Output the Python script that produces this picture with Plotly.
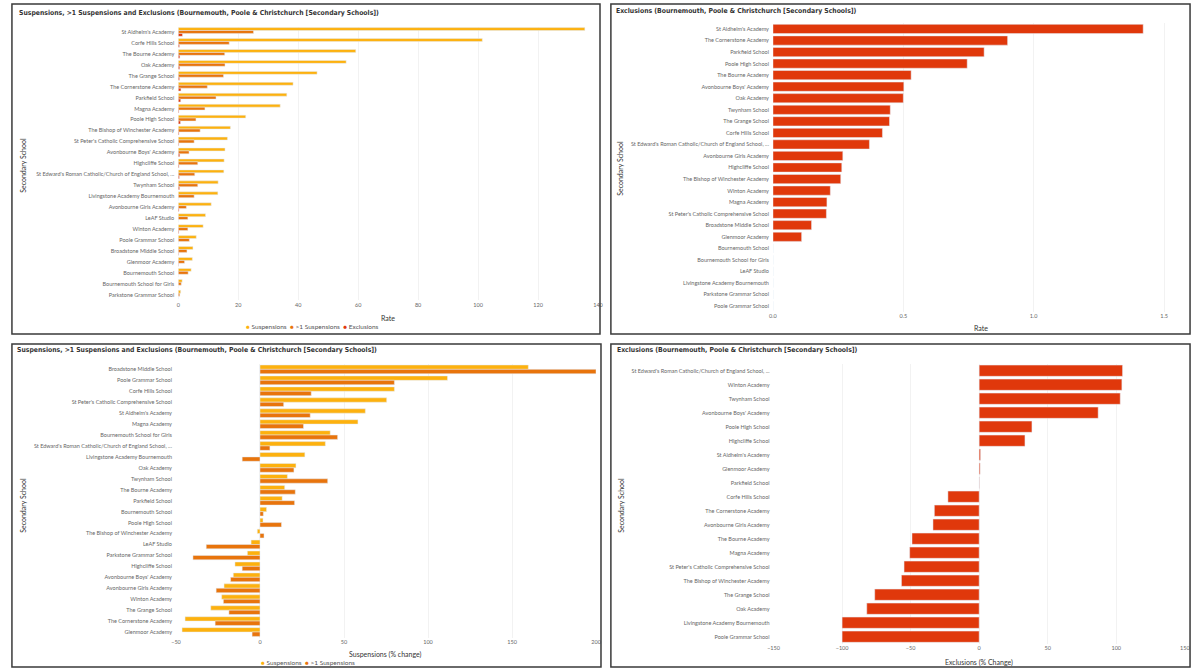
import plotly.graph_objects as go

# --- top panels: rates per school ---
schools = [
    "St Aldhelm's Academy", "Corfe Hills School", "The Bourne Academy", "Oak Academy",
    "The Grange School", "The Cornerstone Academy", "Parkfield School", "Magna Academy",
    "Poole High School", "The Bishop of Winchester Academy",
    "St Peter's Catholic Comprehensive School", "Avonbourne Boys' Academy", "Highcliffe School",
    "St Edward's Roman Catholic/Church of England School, ...", "Twynham School",
    "Livingstone Academy Bournemouth", "Avonbourne Girls Academy", "LeAF Studio",
    "Winton Academy", "Poole Grammar School", "Broadstone Middle School", "Glenmoor Academy",
    "Bournemouth School", "Bournemouth School for Girls", "Parkstone Grammar School",
]
susp_rate = [135.6, 101.4, 59.2, 56.0, 46.3, 38.3, 36.2, 34.0, 22.5, 17.4, 16.4, 15.6, 15.3,
             15.2, 13.3, 13.2, 11.0, 9.1, 8.3, 6.0, 4.9, 4.7, 4.3, 1.3, 0.8]
multi_susp_rate = [25.1, 17.0, 15.5, 15.6, 15.1, 9.7, 12.6, 8.9, 5.9, 7.3, 5.3, 3.6, 6.5,
                   5.5, 6.5, 5.3, 2.7, 3.2, 3.2, 3.7, 2.9, 2.1, 3.3, 1.0, 0.5]
excl_rate = [1.42, 0.42, 0.53, 0.50, 0.447, 0.90, 0.81, 0.207, 0.745, 0.26, 0.205, 0.502, 0.264,
             0.37, 0.45, 0.0, 0.268, 0.0, 0.22, 0.0, 0.148, 0.11, 0.0, 0.0, 0.0]

# --- bottom left: % change in suspensions ---
pct_schools = [
    "Broadstone Middle School", "Poole Grammar School", "Corfe Hills School",
    "St Peter's Catholic Comprehensive School", "St Aldhelm's Academy", "Magna Academy",
    "Bournemouth School for Girls", "St Edward's Roman Catholic/Church of England School, ...",
    "Livingstone Academy Bournemouth", "Oak Academy", "Twynham School", "The Bourne Academy",
    "Parkfield School", "Bournemouth School", "Poole High School",
    "The Bishop of Winchester Academy", "LeAF Studio", "Parkstone Grammar School",
    "Highcliffe School", "Avonbourne Boys' Academy", "Avonbourne Girls Academy",
    "Winton Academy", "The Grange School", "The Cornerstone Academy", "Glenmoor Academy",
]
susp_pct = [159.7, 111.6, 80.0, 75.4, 62.7, 58.3, 41.8, 38.9, 26.7, 21.4, 16.3, 14.7, 13.2,
            3.9, 1.8, -1.6, -5.3, -7.5, -14.9, -15.9, -21.4, -22.8, -29.3, -44.6, -46.4]
multi_susp_pct = [200.0, 80.0, 30.5, 14.1, 29.9, 25.9, 46.2, 5.9, -10.6, 20.2, 40.3, 21.0, 20.6,
                  2.0, 12.8, 2.4, -32.0, -39.9, -10.6, -17.5, -26.1, -21.8, -18.5, -26.7, -4.7]

# --- bottom right: % change in exclusions ---
excl_schools = [
    "St Edward's Roman Catholic/Church of England School, ...", "Winton Academy",
    "Twynham School", "Avonbourne Boys' Academy", "Poole High School", "Highcliffe School",
    "St Aldhelm's Academy", "Glenmoor Academy", "Parkfield School", "Corfe Hills School",
    "The Cornerstone Academy", "Avonbourne Girls Academy", "The Bourne Academy",
    "Magna Academy", "St Peter's Catholic Comprehensive School",
    "The Bishop of Winchester Academy", "The Grange School", "Oak Academy",
    "Livingstone Academy Bournemouth", "Poole Grammar School",
]
excl_pct = [104.6, 104.1, 102.9, 86.8, 38.5, 33.4, 1.0, 0.7, 0.2, -22.8, -32.7, -33.7, -49.0,
            -50.7, -54.8, -56.7, -76.2, -82.0, -100.0, -100.0]

TITLE = "Suspensions, >1 Suspensions and Exclusions (Bournemouth, Poole & Christchurch [Secondary Schools])"
TITLE_EXCL = "Exclusions (Bournemouth, Poole & Christchurch [Secondary Schools])"

C_SUSP = '#FDB10E'
C_MULTI = '#E8740C'
C_EXCL = '#E0380B'
W, H = 1200, 672
LABEL_FONT = dict(family='Lato', size=5.5, color='#666666')
TEXT_FONT = dict(family='Lato', size=7, color='#333333')
TITLE_FONT = dict(family='DejaVu Sans Condensed, Roboto, sans-serif', size=6.8, color='#333333')


def fx(px):
    return px / W


def fy(py):
    return 1 - py / H


# panel 2 is the exclusion rate sorted high to low
order = sorted(range(len(schools)), key=lambda i: (-excl_rate[i], schools[i]))
excl_sorted_schools = [schools[i] for i in order]
excl_sorted_rate = [excl_rate[i] for i in order]

fig = go.Figure()

fig.add_trace(go.Bar(y=schools, x=susp_rate, orientation='h', marker_color=C_SUSP,
                     name='Suspensions', xaxis='x', yaxis='y'))
fig.add_trace(go.Bar(y=schools, x=multi_susp_rate, orientation='h', marker_color=C_MULTI,
                     name='>1 Suspensions', xaxis='x', yaxis='y'))
fig.add_trace(go.Bar(y=schools, x=excl_rate, orientation='h', marker_color=C_EXCL,
                     name='Exclusions', xaxis='x', yaxis='y'))

fig.add_trace(go.Bar(y=excl_sorted_schools, x=excl_sorted_rate, orientation='h',
                     marker_color=C_EXCL, name='Exclusions', xaxis='x2', yaxis='y2'))

fig.add_trace(go.Bar(y=pct_schools, x=susp_pct, orientation='h', marker_color=C_SUSP,
                     name='Suspensions', xaxis='x3', yaxis='y3'))
fig.add_trace(go.Bar(y=pct_schools, x=multi_susp_pct, orientation='h', marker_color=C_MULTI,
                     name='>1 Suspensions', xaxis='x3', yaxis='y3'))

fig.add_trace(go.Bar(y=excl_schools, x=excl_pct, orientation='h', marker_color=C_EXCL,
                     name='Exclusions', xaxis='x4', yaxis='y4'))


def xaxis(dom, rng, dtick, anchor, fmt=None):
    d = dict(domain=[fx(dom[0]), fx(dom[1])], range=rng, dtick=dtick, anchor=anchor,
             showgrid=True, gridcolor='#F2F2F2', zeroline=False, showline=False,
             tickfont=LABEL_FONT, ticks='', fixedrange=True)
    if fmt:
        d['tickformat'] = fmt
    return d


def yaxis(top, bottom, n, anchor):
    return dict(domain=[fy(bottom), fy(top)], range=[n - 0.5, -0.5], anchor=anchor,
                type='category', showgrid=False, zeroline=False, showline=False,
                tickfont=LABEL_FONT, ticks='', ticklabelstandoff=3, fixedrange=True)


fig.update_layout(
    width=W, height=H,
    margin=dict(l=0, r=0, t=0, b=0),
    paper_bgcolor='white', plot_bgcolor='white',
    barmode='group', bargap=0.2, bargroupgap=0,
    showlegend=False,
    xaxis=xaxis((174, 598), [0, 140], 20, 'y'),
    yaxis=yaxis(26.5, 300.2, len(schools), 'x'),
    xaxis2=xaxis((774.7, 1175), [0, 1.52], 0.5, 'y2', '.1f'),
    yaxis2=yaxis(23.2, 311.8, len(schools), 'x2'),
    xaxis3=xaxis((171.7, 596), [-50, 200], 50, 'y3'),
    yaxis3=yaxis(363.9, 637.5, len(pct_schools), 'x3'),
    xaxis4=xaxis((775.3, 1190.7), [-150, 150], 50, 'y4'),
    yaxis4=yaxis(363.7, 643.7, len(excl_schools), 'x4'),
)

# panel frames
for x0, y0, x1, y1 in [(6, 4, 600, 334), (611, 4, 1196, 334),
                       (6, 344, 601, 667), (611, 344, 1196, 667)]:
    fig.add_shape(type='rect', xref='paper', yref='paper',
                  x0=fx(x0), x1=fx(x1), y0=fy(y1), y1=fy(y0),
                  line=dict(color='#3A3A3A', width=1.5), fillcolor='rgba(0,0,0,0)')

ann = []


def text(px, py, s, font, xanchor='left', angle=0):
    ann.append(dict(x=fx(px), y=fy(py), xref='paper', yref='paper', text=s, showarrow=False,
                    xanchor=xanchor, yanchor='middle', font=font, textangle=angle))


text(11, 13, '<b>' + TITLE + '</b>', TITLE_FONT)
text(614, 11, '<b>' + TITLE_EXCL + '</b>', TITLE_FONT)
text(9, 350, '<b>' + TITLE + '</b>', TITLE_FONT)
text(615, 350, '<b>' + TITLE_EXCL + '</b>', TITLE_FONT)

# axis titles
text(386, 318, 'Rate', TEXT_FONT, 'center')
text(985, 328, 'Rate', TEXT_FONT, 'center')
text(383, 654, 'Suspensions (% change)', TEXT_FONT, 'center')
text(983, 662, 'Exclusions (% Change)', TEXT_FONT, 'center')
for px, py in [(17, 165), (620, 168), (17, 505), (621, 505)]:
    text(px, py, 'Secondary School', TEXT_FONT, 'center', -90)


def legend_text(items):
    return '  '.join(f"<span style='color:{c}'>●</span> {n}" for c, n in items)


leg_font = dict(family='Lato', size=6.5, color='#555555')
text(240, 327, legend_text([(C_SUSP, 'Suspensions'), (C_MULTI, '&gt;1 Suspensions'),
                            (C_EXCL, 'Exclusions')]), leg_font)
text(256, 662, legend_text([(C_SUSP, 'Suspensions'), (C_MULTI, '&gt;1 Suspensions')]), leg_font)

fig.update_layout(annotations=ann)

# drop the default page margin so the figure sits flush in the window
fig.write_html("out.html", config={'displayModeBar': False},
               post_script="document.body.style.margin='0';document.body.style.overflow='hidden';")
